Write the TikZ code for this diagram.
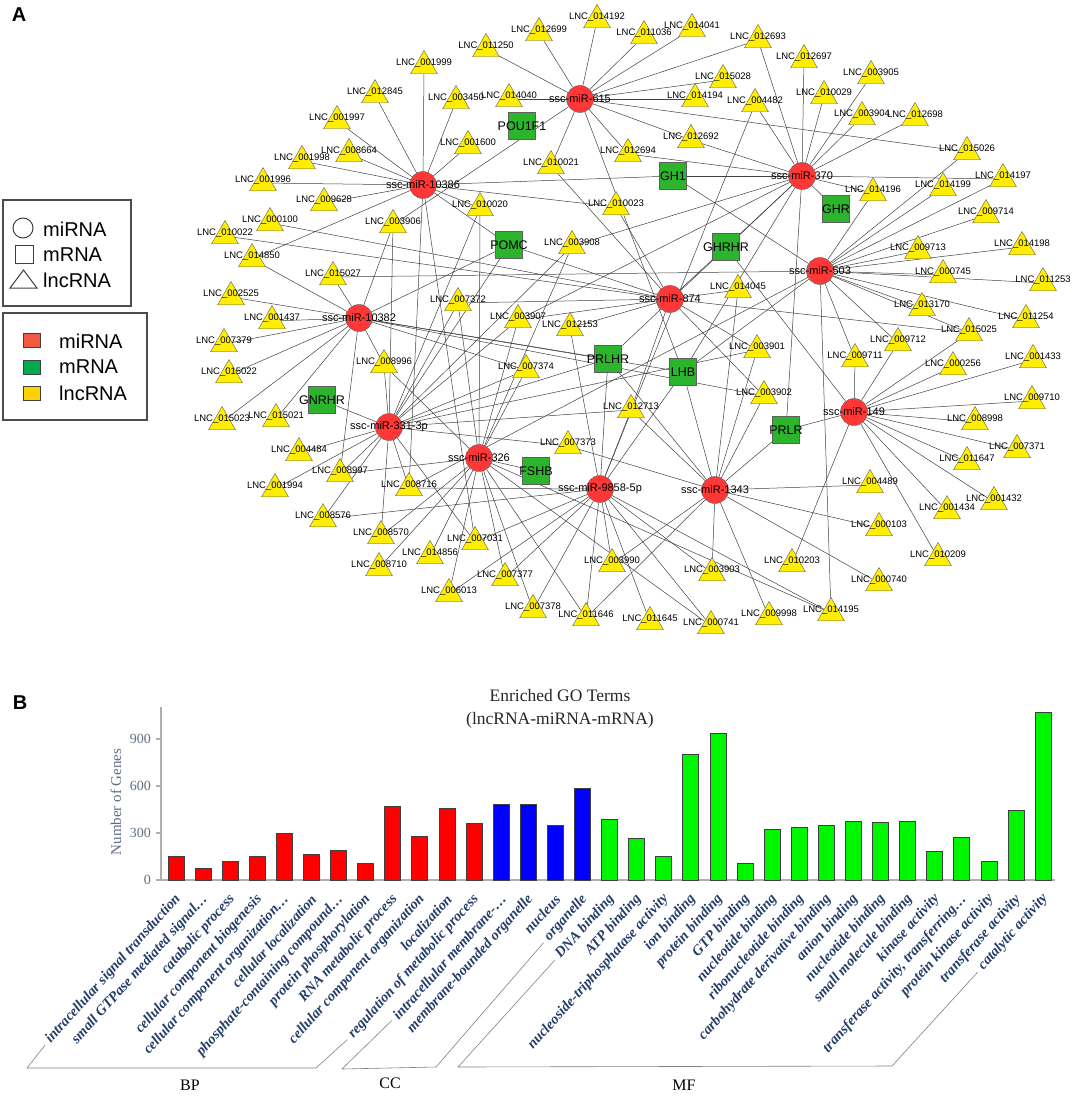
\documentclass[tikz,border=0pt]{standalone}
\usepackage{fontspec}
\setmainfont{Liberation Serif}
\setsansfont{Liberation Sans}
\usetikzlibrary{
    shapes.geometric,
    backgrounds
}
\definecolor{mirRed}{RGB}{255, 55, 55}
\definecolor{mrnaGreen}{RGB}{45, 180, 45}
\definecolor{lncYellow}{RGB}{255, 238, 0}
\definecolor{nodeLine}{RGB}{95, 95, 95}
\definecolor{keyRed}{RGB}{240, 90, 65}
\definecolor{keyGreen}{RGB}{0, 170, 80}
\definecolor{keyYellow}{RGB}{255, 210, 0}
\definecolor{barRed}{RGB}{255, 0, 0}
\definecolor{barBlue}{RGB}{0, 0, 255}
\definecolor{barGreen}{RGB}{0, 245, 0}
\definecolor{goBlue}{RGB}{35, 60, 105}
\definecolor{axisBlue}{RGB}{95, 110, 135}
\definecolor{axisGray}{RGB}{175, 175, 175}

\begin{document}
\begin{tikzpicture}[x=1pt, y=-1pt, >=stealth,
    nettext/.style={inner sep=0pt, text=black},
    mirna/.style={circle, minimum size=27pt, inner sep=0pt, draw=nodeLine, fill=mirRed,
        label={[nettext, font=\sffamily\fontsize{11}{12}\selectfont]center:#1}},
    mrna/.style={rectangle, minimum size=27pt, inner sep=0pt, draw=nodeLine, fill=mrnaGreen,
        label={[nettext, font=\sffamily\fontsize{12.5}{13}\selectfont]center:#1}},
    lnc/.style={regular polygon, regular polygon sides=3, minimum size=31pt, inner sep=0pt,
        draw=nodeLine, fill=lncYellow, yshift=-3pt,
        label={[nettext, yshift=3pt, font=\sffamily\fontsize{9.5}{10}\selectfont]center:#1}},
    link/.style={black!75, line width=0.5pt},
    panel/.style={font=\sffamily\bfseries\fontsize{20}{20}\selectfont},
    keybox/.style={draw=black!70, line width=1.3pt},
    keyshape/.style={draw=black!75, line width=1pt},
    keytext/.style={anchor=west, inner sep=0pt, font=\sffamily\fontsize{20}{20}\selectfont},
    axis/.style={axisGray, line width=1.3pt},
    tick/.style={anchor=east, inner sep=1pt, text=axisBlue, font=\fontsize{14}{14}\selectfont},
    bar/.style={draw=black!75, line width=1pt},
    golabel/.style={rotate=48, anchor=east, inner sep=1pt, text=goBlue,
        font=\bfseries\itshape\fontsize{14.5}{14.5}\selectfont},
    bracket/.style={black!50, line width=0.6pt, shorten <=4pt, shorten >=4pt},
    group/.style={font=\fontsize{16}{16}\selectfont}
]
\useasboundingbox (0,0) rectangle (1072,1097);

\node[panel] (pa) at (19,15) {A};
\node[panel] (pb) at (20,703) {B};

% Legend
\draw[keybox] (3,200) rectangle (131,306);
\draw[keyshape] (23,228) circle (10);
\draw[keyshape] (15,245) rectangle (33,263);
\draw[keyshape] (10,288) -- (23.5,270) -- (37,288) -- cycle;
\node[keytext] (k1) at (43,229) {miRNA};
\node[keytext] (k2) at (43,255) {mRNA};
\node[keytext] (k3) at (43,280) {lncRNA};

\draw[keybox] (3,313) rectangle (147,420);
\draw[keyshape, fill=keyRed] (23,333) rectangle (40,347);
\draw[keyshape, fill=keyGreen] (23,360) rectangle (40,374);
\draw[keyshape, fill=keyYellow] (23,386) rectangle (40,400);
\node[keytext] (k4) at (59,341) {miRNA};
\node[keytext] (k5) at (59,367) {mRNA};
\node[keytext] (k6) at (59,393) {lncRNA};

% Network: miRNA
\foreach \n/\t/\x/\y in {m615/615/580/99, m10386/10386/423/185, m370/370/802/176,
    m503/503/820/271, m874/874/670/299, m10382/10382/359/318, m331/331-3p/389/427,
    m326/326/479/458, m9858/9858-5p/600/489, m1343/1343/715/490, m149/149/854/412}
    \node[mirna={ssc-miR-\t}] (\n) at (\x,\y) {};

% Network: mRNA
\foreach \n/\x/\y in {POU1F1/522/126, GH1/673/176, GHR/836/209, POMC/509/245,
    GHRHR/726/247, PRLHR/608/359, LHB/683/372, PRLR/786/430, GNRHR/322/400, FSHB/536/471}
    \node[mrna=\n] (\n) at (\x,\y) {};

% Network: lncRNA
\foreach \n/\x/\y in {014192/597/17, 012699/539/30, 011250/486/46, 001999/424/63,
    012845/375/92, 003450/456/98, 014040/509/96, 001997/337/118, 001998/302/158,
    008664/349/151, 001600/468/143, 010021/551/163, 001996/263/180, 009628/324/200,
    010020/480/205, 000100/270/220, 003906/393/222, 010022/225/233, 014850/252/256,
    003908/572/243, 011036/644/33, 014041/692/26, 012693/758/37, 012697/804/57,
    003905/871/73, 015028/723/77, 010029/824/93, 014194/695/96, 004482/755/101,
    003904/862/114, 012698/915/115, 012692/691/137, 012694/628/151, 015026/967/149,
    014197/1003/176, 014199/943/185, 014196/873/190, 010023/616/204, 009714/986/212,
    009713/918/248, 014198/1022/244, 000745/943/272, 011253/1043/280, 014045/738/287,
    013170/922/305, 011254/1026/317, 015025/969/330, 009712/898/340, 003901/757/347,
    009711/855/356, 000256/953/364, 001433/1033/357, 003902/764/393, 012713/631/407,
    009710/1032/398, 008998/975/419, 007371/1017/447, 011647/967/459, 004489/870/482,
    001432/994/499, 001434/947/508, 000103/879/525, 010203/792/561, 010209/938/555,
    000740/879/580, 003903/712/570, 003990/612/561, 014195/831/610, 011646/586/615,
    011645/650/619, 000741/711/623, 009998/769/614, 007378/533/607, 015027/333/274,
    002525/231/294, 007372/458/300, 001437/272/318, 003907/518/317, 012153/570/325,
    007379/224/341, 008996/384/362, 007374/526/367, 015022/229/372, 015023/222/419,
    015021/276/416, 007373/568/443, 004484/299/450, 008997/340/471, 001994/275/486,
    008716/409/485, 008576/323/516, 008570/381/533, 007031/475/539, 014856/430/553,
    008710/379/565, 007377/505/575, 006013/449/591}
    \node[lnc={LNC\_\n}] (l\n) at (\x,\y) {};

% Network: interactions
\begin{scope}[on background layer]
\foreach \m/\targets in {
    m615/{l014192,l012699,l011250,l014040,l011036,l014041,l012693,l015028,l014194,
        l012694,l015026,l010021,l012692,l003906,LHB},
    m10386/{l001999,l012845,l003450,l001997,l001998,l008664,l001600,l001996,l009628,
        l010020,l014850,POMC,GH1,l010023,l008716,l007031},
    m370/{l012693,l012697,l003905,l010029,l004482,l003904,l012698,l012692,l012694,GH1,
        l014197,l014196,GHR,GHRHR,l003908,l003907,PRLHR,LHB,PRLR},
    m503/{l015026,l014197,l014199,l014196,l009714,l009713,l014198,l000745,l011253,
        l013170,l011254,l015025,l009712,l009711,GH1,l015027,LHB,l014195,l008716},
    m874/{l010021,l010023,l000100,l010022,POMC,l007372,l014045,l015025,l003901,
        l003902,l012713,GHRHR,l003907,l012153},
    m10382/{l014850,l015027,l002525,l001437,l007379,l015022,l015023,l015021,l008996,
        l008997,l003906,POMC,l007374,PRLHR,LHB,l003902},
    m331/{GNRHR,l004484,l001994,l008997,l008576,l008570,l007031,l008716,l008996,
        l003906,l010020,POMC,l007372,l003907,l007374,l007373,PRLHR,l003908,l012713,l003901},
    m326/{FSHB,l008997,l014856,l008710,l007377,l006013,l007378,l008570,l011646,l010020,
        l003908,l007372,l003907,l007374,l008996,l000741,l014195},
    m9858/{l004482,l012153,PRLHR,LHB,l012713,l008716,l008576,l007031,l003990,l011646,
        l011645,l000741,l007378,l007377,l006013,l014195,l003903},
    m1343/{l014045,l003901,l003902,LHB,PRLR,l004489,l000103,l000740,l009998,l003990,
        l011646,l007373,l012713,PRLHR,l003903},
    m149/{l015025,l009712,l009711,l000256,l001433,l009710,l008998,l007371,l011647,
        l001432,l001434,l010209,l010203,PRLR,GHRHR}}
    \foreach \t in \targets
        \draw[link] (\m) -- (\t);
\end{scope}

% Bar chart
\node[align=center, text=black!85, font=\fontsize{17.5}{23}\selectfont] (title) at (560,709)
    {Enriched GO Terms\\(lncRNA-miRNA-mRNA)};
\node[rotate=90, text=axisBlue, font=\fontsize{15}{15}\selectfont] (ylab) at (116,802) {Number of Genes};
\draw[axis] (161,707) -- (161,880) -- (1055,880);
\foreach \v in {0,300,600,900} {
    \draw[axis] (156,{880-\v*0.1567}) -- (161,{880-\v*0.1567});
    \node[tick] (t\v) at (152,{880-\v*0.1567}) {\v};
}
\foreach \i/\v/\c/\t in {
    1/153/barRed/intracellular signal transduction,
    2/75/barRed/small GTPase mediated signal\ldots,
    3/117/barRed/catabolic process,
    4/150/barRed/cellular component biogenesis,
    5/300/barRed/cellular component organization\ldots,
    6/160/barRed/cellular localization,
    7/191/barRed/phosphate-containing compound\ldots,
    8/106/barRed/protein phosphorylation,
    9/472/barRed/RNA metabolic process,
    10/280/barRed/cellular component organization,
    11/457/barRed/localization,
    12/362/barRed/regulation of metabolic process,
    13/483/barBlue/intracellular membrane-\ldots,
    14/483/barBlue/membrane-bounded organelle,
    15/345/barBlue/nucleus,
    16/583/barBlue/organelle,
    17/387/barGreen/DNA binding,
    18/264/barGreen/ATP binding,
    19/153/barGreen/nucleoside-triphosphatase activity,
    20/798/barGreen/ion binding,
    21/934/barGreen/protein binding,
    22/106/barGreen/GTP binding,
    23/323/barGreen/nucleotide binding,
    24/334/barGreen/ribonucleotide binding,
    25/347/barGreen/carbohydrate derivative binding,
    26/372/barGreen/anion binding,
    27/368/barGreen/nucleotide binding,
    28/372/barGreen/small molecule binding,
    29/181/barGreen/kinase activity,
    30/270/barGreen/{transferase activity, transferring\ldots},
    31/121/barGreen/protein kinase activity,
    32/445/barGreen/transferase activity,
    33/1068/barGreen/catalytic activity} {
    \draw[bar, fill=\c] ({168+27.1*(\i-1)},880) rectangle ++(16,{-\v*0.1567});
    \node[golabel] (g\i) at ({179+27.1*(\i-1)},896) {\t};
}

% Groups
\draw[bracket] (g1.west) -- (27,1068) -- (316,1068) -- (g12.west);
\draw[bracket] (g13.west) -- (342,1069) -- (436,1067) -- (g16.west);
\draw[bracket] (g17.west) -- (458,1067) -- (892,1066) -- (g33.west);
\node[group] (bp) at (190,1085) {BP};
\node[group] (cc) at (390,1083) {CC};
\node[group] (mf) at (684,1085) {MF};
\end{tikzpicture}
\end{document}
